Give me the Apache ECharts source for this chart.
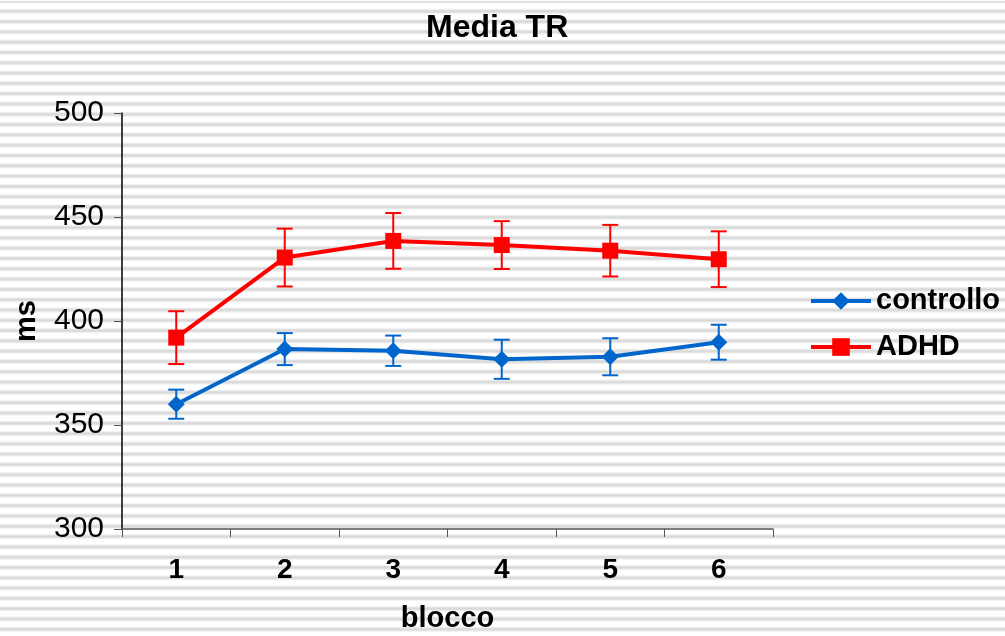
<!DOCTYPE html>
<html>
<head>
<meta charset="utf-8">
<script src="https://cdn.jsdelivr.net/npm/echarts@6/dist/echarts.min.js"></script>
<style>
  html, body { margin: 0; padding: 0; }
  body {
    width: 1005px; height: 636px; overflow: hidden;
    background-color: #fff;
    /* horizontal ruled backdrop */
    background-image: repeating-linear-gradient(180deg,
      #d8d8d8 0px, #e0e0e0 1px, #f4f4f4 2.2px, #ffffff 3px,
      #ffffff 7.3px, #f4f4f4 8.1px, #e0e0e0 9.3px, #d8d8d8 10.3px);
    background-position: 0 1px;
  }
  #chart { width: 1005px; height: 636px; }
</style>
</head>
<body>
<div id="chart"></div>
<script>
// Mean response time per block, with error bars (ms)
const blocks = ['1', '2', '3', '4', '5', '6'];
const controllo = [360, 386.5, 385.7, 381.6, 382.8, 389.8];
const controlloErr = [7, 7.7, 7.3, 9.4, 8.9, 8.4];
const adhd = [392, 430.5, 438.5, 436.5, 433.8, 429.7];
const adhdErr = [12.7, 13.9, 13.4, 11.5, 12.4, 13.4];
const yTicks = [300, 350, 400, 450, 500];

const FONT = 'Liberation Sans, Arial, sans-serif';
const BLUE = '#0066cc';
const RED = '#ff0000';

function errorData(values, errs) {
  return values.map((v, i) => [i, v - errs[i], v + errs[i]]);
}

function errorBar(color) {
  return function (params, api) {
    const x = api.value(0);
    const lo = api.coord([x, api.value(1)]);
    const hi = api.coord([x, api.value(2)]);
    const half = 8;
    const style = { stroke: color, lineWidth: 2, fill: null };
    return {
      type: 'group',
      children: [
        { type: 'line', shape: { x1: lo[0], y1: lo[1], x2: hi[0], y2: hi[1] }, style },
        { type: 'line', shape: { x1: hi[0] - half, y1: hi[1], x2: hi[0] + half, y2: hi[1] }, style },
        { type: 'line', shape: { x1: lo[0] - half, y1: lo[1], x2: lo[0] + half, y2: lo[1] }, style }
      ]
    };
  };
}

const chart = echarts.init(document.getElementById('chart'), null, { renderer: 'canvas' });

chart.setOption({
  backgroundColor: 'transparent',
  animation: false,
  title: {
    text: 'Media TR',
    left: 421,
    top: 7,
    textStyle: { fontFamily: FONT, fontWeight: 'bold', fontSize: 32, color: '#000' }
  },
  legend: {
    orient: 'vertical',
    left: 804,
    top: 281,
    itemWidth: 60,
    itemHeight: 22,
    itemGap: 16,
    lineStyle: { width: 4 },
    textStyle: { fontFamily: FONT, fontWeight: 'bold', fontSize: 29, color: '#000', lineHeight: 30 },
    data: ['controllo', 'ADHD']
  },
  grid: { left: 122, right: 232, top: 113, bottom: 107, outerBoundsMode: 'none', containLabel: false },
  xAxis: {
    type: 'category',
    data: blocks,
    boundaryGap: true,
    name: 'blocco',
    nameLocation: 'middle',
    nameGap: 75,
    nameTextStyle: { fontFamily: FONT, fontWeight: 'bold', fontSize: 29, color: '#000' },
    axisLine: { lineStyle: { color: '#555', width: 1.5 } },
    axisTick: { show: true, inside: false, length: 8, lineStyle: { color: '#555' } },
    axisLabel: { margin: 27, fontFamily: FONT, fontWeight: 'bold', fontSize: 28, color: '#000' },
    splitLine: { show: false }
  },
  yAxis: {
    type: 'value',
    min: yTicks[0],
    max: yTicks[yTicks.length - 1],
    interval: yTicks[1] - yTicks[0],
    name: 'ms',
    nameLocation: 'middle',
    nameGap: 81,
    nameTextStyle: { fontFamily: FONT, fontWeight: 'bold', fontSize: 29, color: '#000' },
    axisLine: { show: true, lineStyle: { color: '#000', width: 1.5 } },
    axisTick: { show: true, inside: false, length: 8, lineStyle: { color: '#555' } },
    axisLabel: { margin: 18, fontFamily: FONT, fontSize: 30, color: '#000' },
    splitLine: { show: false }
  },
  series: [
    {
      name: 'controllo-err',
      type: 'custom',
      renderItem: errorBar(BLUE),
      data: errorData(controllo, controlloErr),
      encode: { x: 0, y: [1, 2] },
      z: 1,
      silent: true
    },
    {
      name: 'ADHD-err',
      type: 'custom',
      renderItem: errorBar(RED),
      data: errorData(adhd, adhdErr),
      encode: { x: 0, y: [1, 2] },
      z: 1,
      silent: true
    },
    {
      name: 'controllo',
      type: 'line',
      data: controllo,
      symbol: 'diamond',
      symbolSize: [17, 17],
      showAllSymbol: true,
      itemStyle: { color: BLUE },
      lineStyle: { color: BLUE, width: 4 },
      z: 3
    },
    {
      name: 'ADHD',
      type: 'line',
      data: adhd,
      symbol: 'rect',
      symbolSize: 16,
      showAllSymbol: true,
      itemStyle: { color: RED },
      lineStyle: { color: RED, width: 4 },
      z: 3
    }
  ]
});
</script>
</body>
</html>
